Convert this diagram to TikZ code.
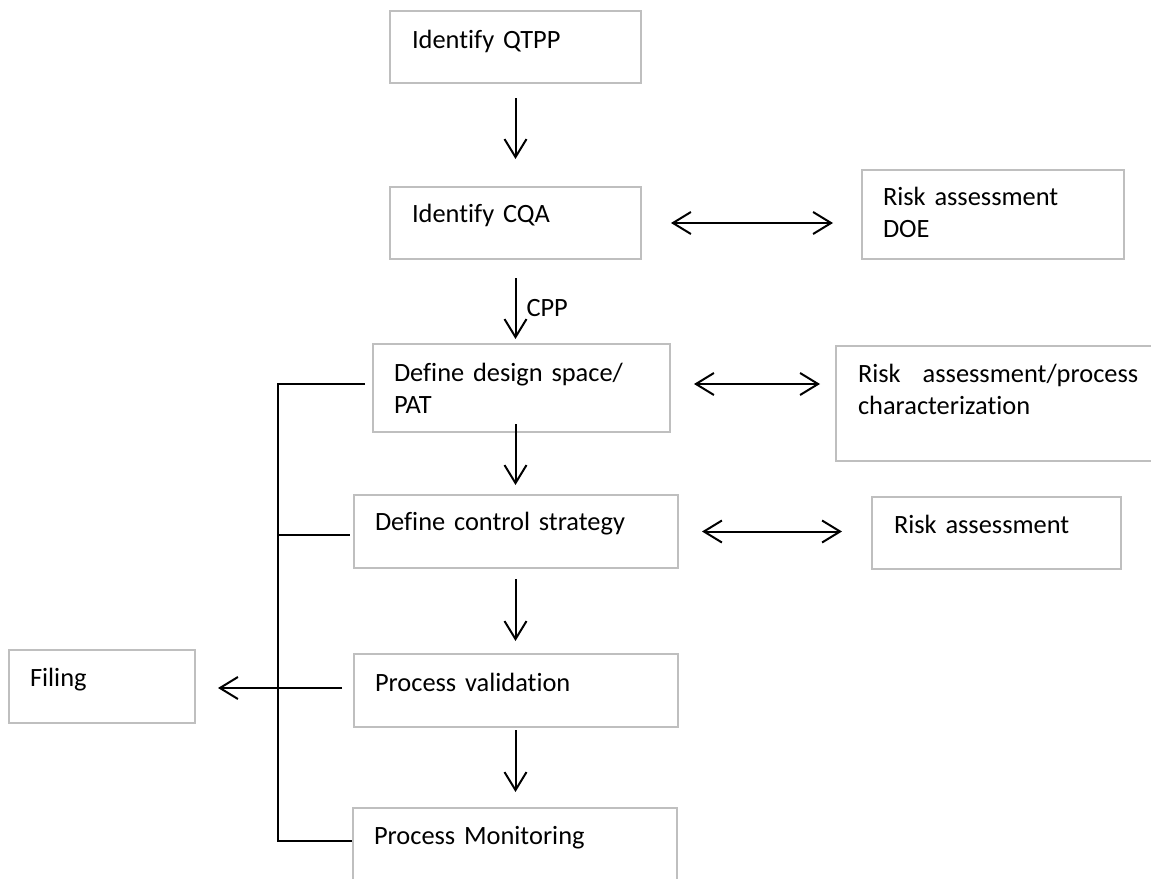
\documentclass[tikz,border=0pt]{standalone}
\usepackage{fontspec}
\setmainfont{Carlito}[Ligatures=NoCommon]
\usetikzlibrary{arrows.meta,positioning}
\definecolor{boxgray}{RGB}{191,191,191}

\begin{document}
\begin{tikzpicture}[x=0.5pt,y=-0.5pt,font=\fontsize{13.2pt}{16pt}\selectfont,
	stage/.style={draw=boxgray,line width=1pt,anchor=north west,align=left,inner ysep=0pt,inner xsep=10.5pt},
	arr/.style={line width=1pt,-{Straight Barb[length=9pt,width=11pt]}},
	darr/.style={line width=1pt,{Straight Barb[length=9pt,width=11pt]}-{Straight Barb[length=9pt,width=11pt]}},
	link/.style={line width=1pt}]
	\useasboundingbox (0,0) rectangle (1151,878);

	% main column
	\node[stage,inner xsep=11pt,text width=103.5pt,text height=18.75pt,text depth=17.25pt] (qtpp) at (389,10) {Identify QTPP};
	\node[stage,inner xsep=11pt,text width=103.5pt,text height=17.75pt,text depth=18.25pt] (cqa) at (389,186) {Identify CQA};
	\node[stage,text width=127.5pt,text height=18.75pt,text depth=25.25pt] (design) at (372,343) {Define design space/\\PAT};
	\node[stage,text width=141pt,text height=17.5pt,text depth=19pt] (control) at (353,494) {Define control strategy};
	\node[stage,text width=141pt,text height=18.75pt,text depth=17.75pt] (validation) at (353,653) {Process validation};
	\node[stage,text width=141pt,text height=18.25pt,text depth=28.25pt] (monitoring) at (352,807) {Process Monitoring};

	% side boxes
	\node[stage,text width=110pt,text height=17.75pt,text depth=26.75pt] (doe) at (861,169) {Risk assessment\\DOE};
	\node[stage,inner xsep=11pt,text width=140.5pt,text height=18.25pt,text depth=39.25pt] (riskproc) at (835,345) {Risk\hspace{11pt}assessment/process\\characterization};
	\node[stage,inner xsep=11pt,text width=102.5pt,text height=18.25pt,text depth=17.75pt] (risk) at (871,496) {Risk assessment};
	\node[stage,text width=72pt,text height=18.25pt,text depth=18.25pt] (filing) at (8,649) {Filing};

	\coordinate (bustop) at (278,384);
	\coordinate (busbot) at (278,841);

	\draw[arr,shorten <=7pt,shorten >=13.5pt] (qtpp.south) -- (cqa.north);
	\draw[arr,shorten <=9pt,shorten >=2pt] (cqa.south) -- node[pos=0.58,right,inner xsep=5pt] {CPP} (cqa.south |- design.north);
	\draw[arr,shorten <=-4.5pt,shorten >=4.5pt] (design.south -| cqa.south) -- (control.north -| cqa.south);
	\draw[arr,shorten <=5pt,shorten >=6pt] (control.south -| cqa.south) -- (validation.north -| cqa.south);
	\draw[arr,shorten <=1pt,shorten >=7.5pt] (validation.south -| cqa.south) -- (monitoring.north -| cqa.south);

	\draw[darr,shorten <=14.5pt,shorten >=14pt] (cqa.east) -- (cqa.east -| doe.west);
	\draw[darr,shorten <=11.5pt,shorten >=7.5pt] ([yshift=2pt]design.east) -- ([yshift=2pt]design.east -| riskproc.west);
	\draw[darr,shorten <=11.5pt,shorten >=14.5pt] (control.east) -- (control.east -| risk.west);

	% left bus
	\draw[link] ([xshift=-3.5pt]design.west |- bustop) -- (bustop) -- (busbot) -- (busbot -| monitoring.west);
	\draw[link,shorten >=1.5pt] ([yshift=-1.75pt]control.west -| bustop) -- ([yshift=-1.75pt]control.west);
	\draw[arr,shorten <=5.5pt,shorten >=11pt] ([yshift=1.25pt]validation.west) -- ([yshift=1.25pt]validation.west -| filing.east);
\end{tikzpicture}
\end{document}
